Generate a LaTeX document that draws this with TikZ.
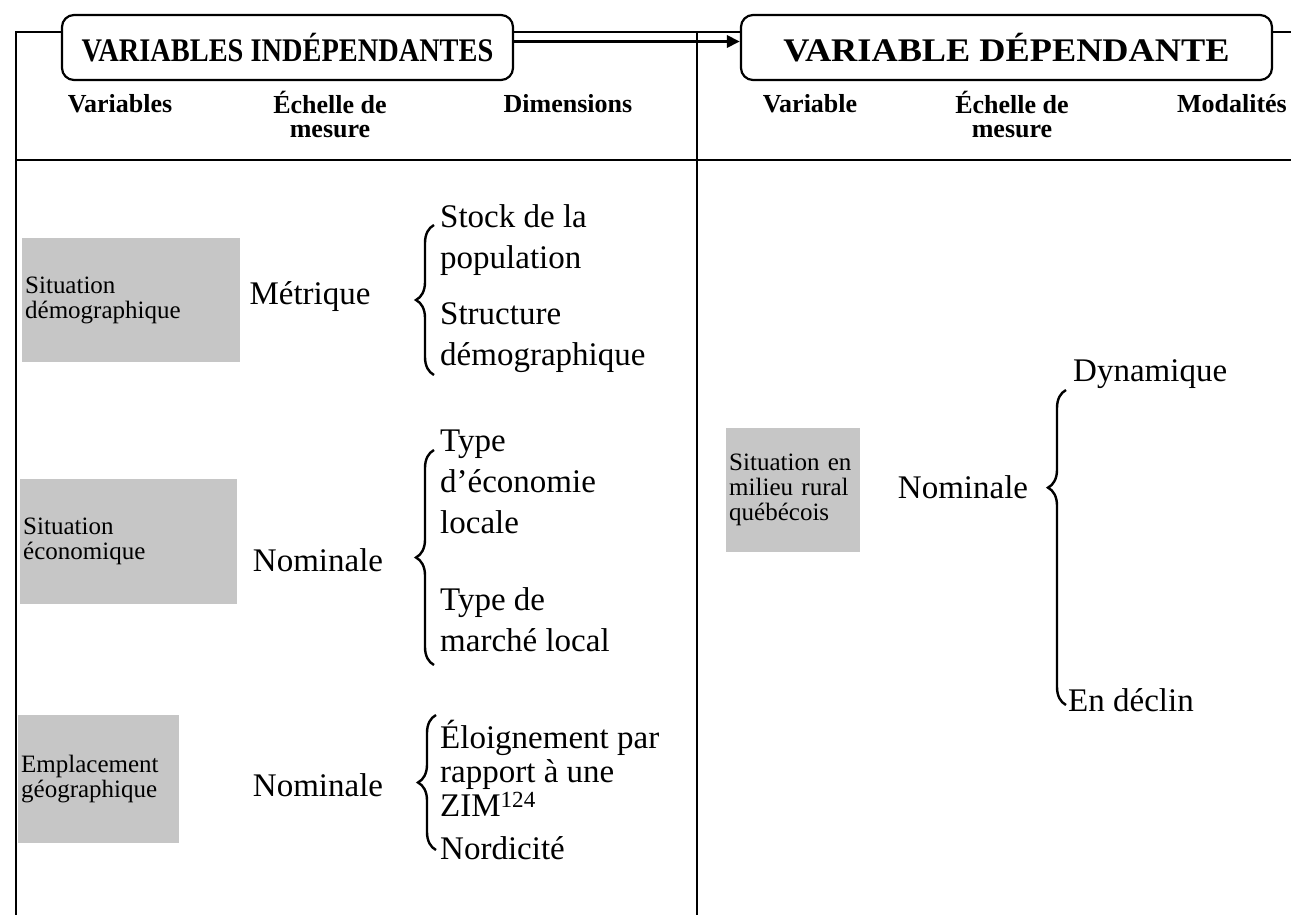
\documentclass[tikz,border=0pt]{standalone}
\usepackage{fontspec}
\setmainfont{Liberation Serif}
\newfontfamily\ttlfontA[FakeStretch=0.86]{Liberation Serif}
\newfontfamily\ttlfontB[FakeStretch=1.1]{Liberation Serif}
\usetikzlibrary{arrows.meta,positioning,decorations.pathreplacing}

\begin{document}
\begin{tikzpicture}[x=1pt, y=-1pt,
    ttl/.style={draw, line width=2.2pt, rounded corners=12pt, minimum height=65pt,
      inner sep=0pt, font=\bfseries\fontsize{33}{36}\selectfont},
    hd/.style={font=\bfseries\fontsize{26}{24}\selectfont, align=center, inner sep=0pt},
    var/.style={fill=gray!45, inner xsep=3pt, inner ysep=0pt, align=left, anchor=west,
      font=\fontsize{25}{25}\selectfont},
    lvl/.style={font=\fontsize{33}{36}\selectfont, inner sep=0pt},
    dim/.style={font=\fontsize{33}{41}\selectfont, align=left, anchor=west, inner sep=0pt},
    brc/.style={decorate, decoration={brace, amplitude=18pt}, line width=2.4pt},
    rule/.style={line width=1.6pt},
    arr/.style={-{Triangle[length=13pt, width=12pt]}, line width=3pt}]
  \useasboundingbox (0,0) rectangle (1291,915);

  % titles
  \node[ttl, minimum width=451pt] (indep) at (287.5,47.5) {\ttlfontA VARIABLES INDÉPENDANTES};
  \node[ttl, minimum width=531pt] (dep) at (1006.5,47.5) {\ttlfontB VARIABLE DÉPENDANTE};

  % frame
  \coordinate (topl) at (16,32);
  \coordinate (topm) at (697,32);
  \draw[rule] (16,915) -- (topl) -- (topl -| indep.west);
  \draw[rule] (indep.east |- topl) -- (dep.west |- topl);
  \draw[rule] (topm) -- (697,915);
  \draw[rule] (dep.east |- topl) -- (1291,32);
  \draw[rule] (16,160) -- (1291,160);
  \draw[arr] ([yshift=6pt]indep.east) -- ([yshift=6pt]dep.west);

  % column heads
  \node[hd] (hvars) at (120,104) {Variables};
  \node[hd] (hechA) at (330,115) {Échelle de\\mesure};
  \node[hd] (hdims) at (568,104) {Dimensions};
  \node[hd] (hvar) at (810,104) {Variable};
  \node[hd] (hechB) at (1012,115) {Échelle de\\mesure};
  \node[hd, anchor=east] (hmod) at (1287,104) {Modalités};

  % independent variables
  \node[var, text width=212pt, minimum height=124pt] (vdemo) at (22,300) {Situation\\démographique};
  \node[var, text width=211pt, minimum height=125pt] (veco) at (20,541) {Situation\\économique};
  \node[var, text width=155pt, minimum height=128pt] (vgeo) at (18,779) {Emplacement\\géographique};
  \node[lvl] (ldemo) at (310,297) {Métrique};
  \node[lvl] (leco) at (318,560) {Nominale};
  \node[lvl] (lgeo) at (318,785) {Nominale};
  \draw[brc] (434,375) -- (434,225);
  \draw[brc] (434,665) -- (434,450);
  \draw[brc] (436,850) -- (436,715);
  \node[dim] (dstock) at (440,240) {Stock de la\\population};
  \node[dim] (dstruct) at (440,338) {Structure\\démographique};
  \node[dim] (dtype) at (440,482) {Type\\d’économie\\locale};
  \node[dim] (dmarche) at (440,620) {Type de\\marché local};
  \node[dim, font=\fontsize{33}{34}\selectfont] (dzim) at (440,768) {Éloignement par\\rapport à une\\ZIM\textsuperscript{124}};
  \node[dim] (dnord) at (440,848) {Nordicité};

  % dependent variable
  \node[var, text width=128pt, minimum height=124pt] (vrur) at (726,490) {Situation en\\milieu rural\\québécois};
  \node[lvl] (lrur) at (963,487) {Nominale};
  \draw[brc, decoration={aspect=0.69}] (1066,705) -- (1066,390);
  \node[dim] (mdyn) at (1073,374) {Dynamique};
  \node[dim] (mdecl) at (1068,700) {En déclin};
\end{tikzpicture}
\end{document}
